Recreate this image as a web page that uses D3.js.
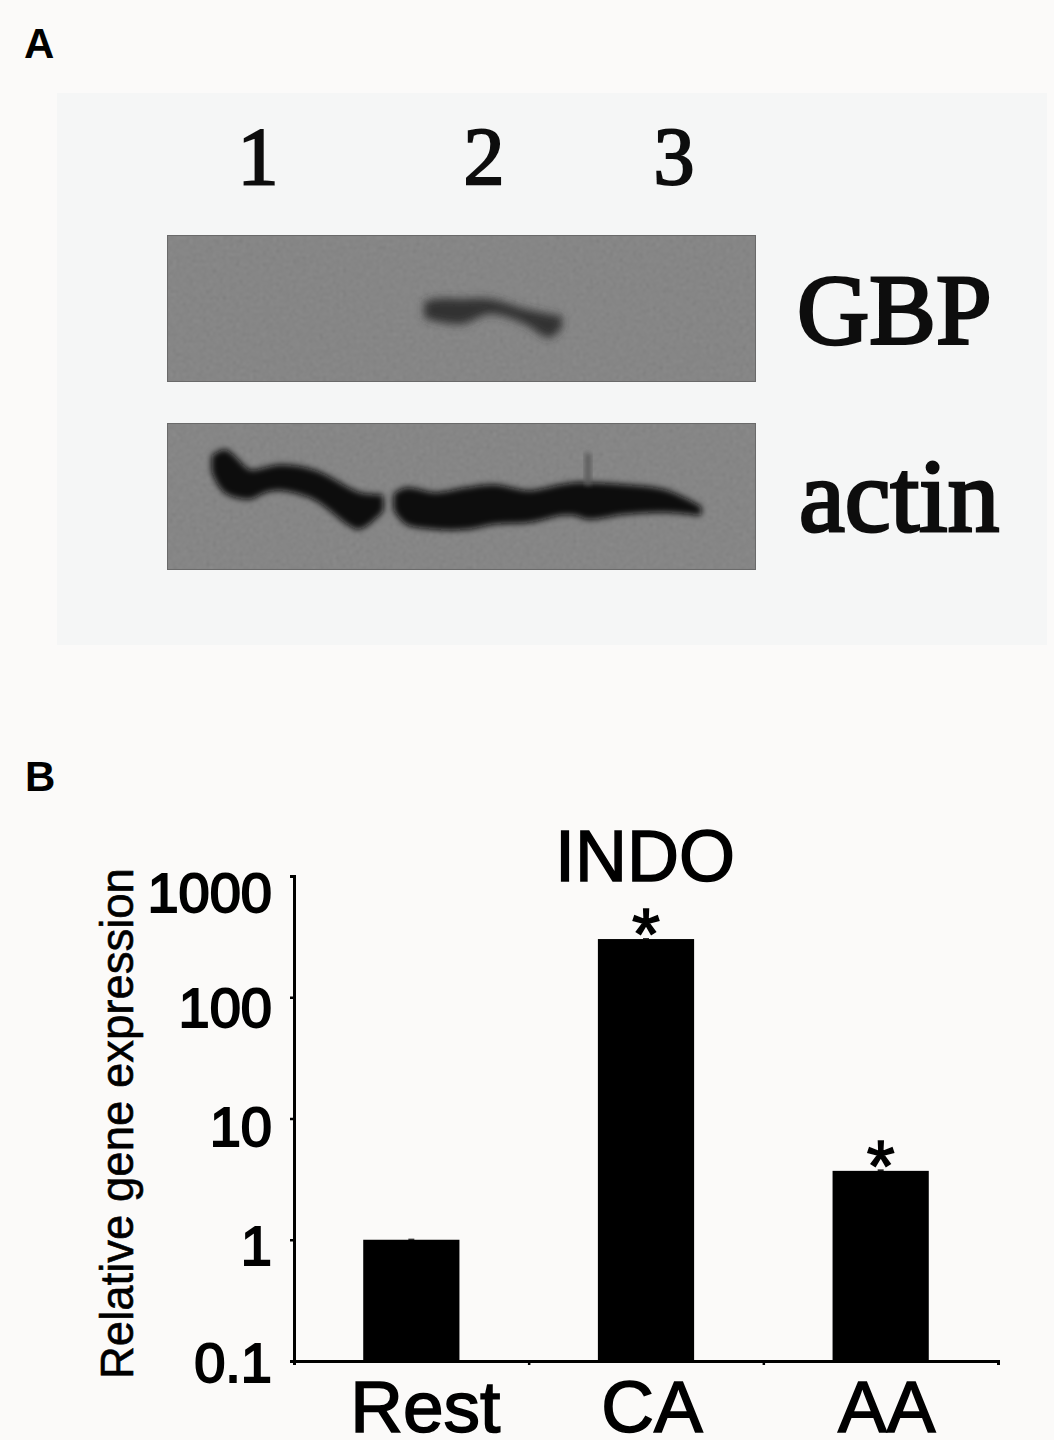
<!DOCTYPE html>
<html>
<head>
<meta charset="utf-8">
<script src="https://cdn.jsdelivr.net/npm/d3@7/dist/d3.min.js"></script>
<style>
  html, body { margin: 0; padding: 0; background: #fbfaf9; }
  svg { display: block; }
  .sans { font-family: "Liberation Sans", Arial, sans-serif; fill: #000; }
  .serif { font-family: "Liberation Serif", serif; fill: #111; }
</style>
</head>
<body>
<svg width="1054" height="1440"></svg>
<script>
// panel B values
const categories = ["Rest", "CA", "AA"];
const expression = [1, 302, 3.7];
const errors = [0.02, 5, 0.1];
const stars = ["", "*", "*"];
const yTicks = [0.1, 1, 10, 100, 1000];
const yTickLabels = ["0.1", "1", "10", "100", "1000"];

// panel A lanes and band outlines, [x, top, bottom] in pixels inside each gel strip
const lanes = ["1", "2", "3"];
const gbpBands = [
  [[258, 68, 82], [268, 65, 85], [295, 65, 88], [323, 65, 78], [358, 75, 88], [382, 80, 102], [394, 82, 92]]
];
const actinBands = [
  [[47, 34, 48], [58, 29, 67], [82, 49, 74], [98, 47, 67], [113, 44, 65], [149, 50, 75], [181, 67, 99], [192, 72, 104], [214, 74, 87]],
  [[229, 72, 86], [240, 67, 99], [268, 72, 104], [299, 67, 104], [327, 64, 99], [362, 70, 97], [394, 64, 90], [408, 62, 90], [422, 62, 94], [457, 64, 89], [497, 69, 87], [532, 85, 90]]
];
const actinSmear = [[[418, 30, 62], [424, 30, 62]]];

const svg = d3.select("svg");

let defs = svg.append("defs");
[["blurGbp", 4.2], ["blurActin", 3], ["blurSmear", 2.5], ["blurText", 0.5]].forEach(b => {
  defs.append("filter").attr("id", b[0])
      .attr("x", "-20%").attr("y", "-50%").attr("width", "140%").attr("height", "200%")
    .append("feGaussianBlur").attr("stdDeviation", b[1]);
});
let grain = defs.append("filter").attr("id", "grain")
    .attr("x", 0).attr("y", 0).attr("width", "100%").attr("height", "100%");
grain.append("feTurbulence")
    .attr("type", "fractalNoise").attr("baseFrequency", 0.3).attr("numOctaves", 3).attr("seed", 7);
grain.append("feColorMatrix")
    .attr("values", "0.33 0.33 0.33 0 0  0.33 0.33 0.33 0 0  0.33 0.33 0.33 0 0  0 0 0 0 1");
grain.append("feGaussianBlur").attr("stdDeviation", 0.8);

// panel A
svg.append("rect")
    .attr("x", 57).attr("y", 93).attr("width", 990).attr("height", 552)
    .attr("fill", "#f5f6f6");

svg.append("text").attr("class", "sans")
    .attr("x", 24).attr("y", 58)
    .style("font-size", "42px").style("font-weight", "bold")
    .text("A");
svg.append("text").attr("class", "sans")
    .attr("x", 25).attr("y", 791)
    .style("font-size", "42px").style("font-weight", "bold")
    .text("B");

let laneX = d3.scalePoint().domain(lanes).range([258, 674]);
svg.selectAll(".lane").data(lanes)
  .enter().append("text")
    .attr("class", "lane serif")
    .attr("x", (d, i) => i === 1 ? 484 : laneX(d))
    .attr("y", 184)
    .attr("text-anchor", "middle")
    .style("font-size", "82px").style("stroke", "#111").style("stroke-width", 2.2)
    .attr("filter", "url(#blurText)")
    .text(d => d);

function gelStrip(top, bands, fill, blur, grow) {
  let x = d3.scaleLinear().domain([0, 589]).range([167, 756]);
  let y = d3.scaleLinear().domain([0, 147]).range([top, top + 147]);
  let strip = svg.append("g");
  strip.append("rect")
      .attr("x", x(0)).attr("y", y(0)).attr("width", 589).attr("height", 147)
      .attr("fill", "#777777");
  strip.append("rect")
      .attr("x", x(0)).attr("y", y(0)).attr("width", 589).attr("height", 147)
      .attr("filter", "url(#grain)")
      .attr("opacity", 0.22);
  let area = d3.area()
      .x(d => x(d[0])).y0(d => y(d[1])).y1(d => y(d[2]))
      .curve(d3.curveCatmullRom);
  strip.selectAll(".band").data(bands)
    .enter().append("path")
      .attr("class", "band")
      .attr("d", area)
      .attr("fill", fill)
      .attr("stroke", fill).attr("stroke-width", grow)
      .attr("stroke-linejoin", "round")
      .attr("filter", "url(#" + blur + ")");
  strip.append("rect")
      .attr("x", x(0) + .5).attr("y", y(0) + .5).attr("width", 588).attr("height", 146)
      .attr("fill", "none").attr("stroke", "#6a6a6a");
  return {strip, area};
}

let gbpGel = gelStrip(235, gbpBands, "#303030", "blurGbp", 2);
let actinGel = gelStrip(423, actinBands, "#080808", "blurActin", 5);
actinGel.strip.selectAll(".smear").data(actinSmear)
  .enter().append("path")
    .attr("class", "smear")
    .attr("d", actinGel.area)
    .attr("fill", "#5a5a5a")
    .attr("filter", "url(#blurSmear)");

svg.append("text").attr("class", "serif")
    .attr("x", 797).attr("y", 343)
    .style("font-size", "100px").style("stroke", "#111").style("stroke-width", 3)
    .attr("filter", "url(#blurText)")
    .text("GBP");
svg.append("text").attr("class", "serif")
    .attr("x", 799).attr("y", 531)
    .style("font-size", "103px").style("stroke", "#111").style("stroke-width", 3)
    .attr("filter", "url(#blurText)")
    .text("actin");

// panel B
let margin = {top: 876, right: 56, bottom: 79, left: 294};
let width = 1054 - margin.left - margin.right;
let height = 1440 - margin.top - margin.bottom;

let scale = {
  x: d3.scaleBand().domain(categories).range([0, width]).paddingInner(0.59).paddingOuter(0.295),
  edge: d3.scaleLinear().domain([0, categories.length]).range([0, width]),
  y: d3.scaleLog().domain([0.1, 1000]).range([height, 0])
};

let chart = svg.append("g")
    .attr("transform", "translate(" + margin.left + "," + margin.top + ")");

chart.selectAll(".error").data(expression)
  .enter().append("line")
    .attr("class", "error")
    .attr("x1", (d, i) => scale.x(categories[i]) + scale.x.bandwidth() / 2)
    .attr("x2", (d, i) => scale.x(categories[i]) + scale.x.bandwidth() / 2)
    .attr("y1", d => scale.y(d))
    .attr("y2", (d, i) => scale.y(d + errors[i]))
    .attr("stroke", "#000").attr("stroke-width", 6);

chart.selectAll(".bar").data(expression)
  .enter().append("rect")
    .attr("class", "bar")
    .attr("x", (d, i) => scale.x(categories[i]))
    .attr("width", scale.x.bandwidth())
    .attr("y", d => scale.y(d))
    .attr("height", d => height - scale.y(d))
    .attr("fill", "#000");

let yAxis = chart.append("g")
    .call(d3.axisLeft(scale.y)
      .tickValues(yTicks)
      .tickSize(4)
      .tickFormat((d, i) => yTickLabels[i]));
let xAxis = chart.append("g")
    .attr("transform", "translate(0," + height + ")")
    .call(d3.axisBottom(scale.edge)
      .tickValues(d3.range(categories.length + 1))
      .tickSize(4)
      .tickFormat(""));

chart.selectAll(".domain").attr("stroke", "#000").attr("stroke-width", 3);
chart.selectAll(".tick line").attr("stroke", "#000").attr("stroke-width", 2.5);

// the labels in the original drift away from their ticks towards the top
const labelDrift = [0, 5, 7, 9, 15];
yAxis.selectAll(".tick text")
    .attr("class", "sans")
    .attr("x", -22)
    .attr("y", (d, i) => labelDrift[i])
    .attr("dy", "0.36em")
    .style("font-family", "'Liberation Sans', Arial, sans-serif")
    .style("font-size", "56px")
    .style("stroke", "#000").style("stroke-width", 2);

chart.selectAll(".cat").data(categories)
  .enter().append("text")
    .attr("class", "cat sans")
    .attr("x", d => scale.x(d) + scale.x.bandwidth() / 2 + (d === "Rest" ? 14 : 6))
    .attr("y", height + 71)
    .attr("text-anchor", "middle")
    .style("font-size", "73px").style("stroke", "#000").style("stroke-width", 1.6)
    .text(d => d);

chart.selectAll(".star").data(expression)
  .enter().append("text")
    .attr("class", "star sans")
    .attr("x", (d, i) => scale.x(categories[i]) + scale.x.bandwidth() / 2)
    .attr("y", d => scale.y(d) + 20)
    .attr("text-anchor", "middle")
    .style("font-size", "72px").style("stroke", "#000").style("stroke-width", 1.5)
    .text((d, i) => stars[i]);

svg.append("text").attr("class", "sans")
    .attr("x", 645).attr("y", 881)
    .attr("text-anchor", "middle")
    .style("font-size", "72px").style("stroke", "#000").style("stroke-width", 1.5)
    .text("INDO");

svg.append("text").attr("class", "sans")
    .attr("transform", "translate(133,1379) rotate(-90)")
    .style("font-size", "45.5px").style("stroke", "#000").style("stroke-width", 0.6)
    .text("Relative gene expression");
</script>
</body>
</html>
